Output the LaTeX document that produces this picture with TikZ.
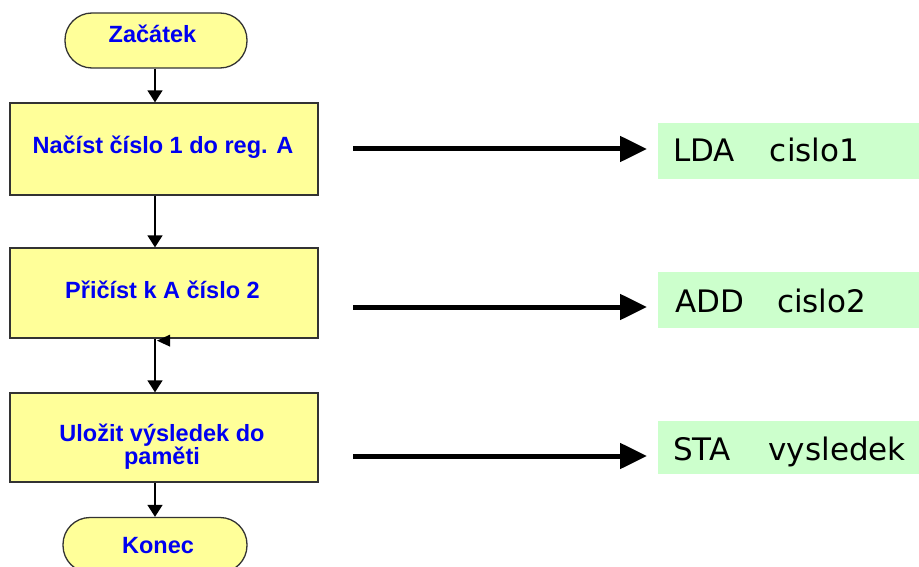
\documentclass[tikz,border=0pt]{standalone}
\usepackage{fontspec}
\setmainfont{Liberation Sans}
\newfontfamily\codefont{DejaVu Sans}
\usetikzlibrary{arrows.meta}
\definecolor{boxyellow}{HTML}{FFFF99}
\definecolor{boxline}{HTML}{333333}
\definecolor{txtblue}{HTML}{0000F0}
\definecolor{codegreen}{HTML}{CCFFCC}
\begin{document}
\begin{tikzpicture}[x=1pt,y=-1pt,
  term/.style={draw=boxline, fill=boxyellow, line width=1.3pt, rounded corners=27pt,
    minimum width=182pt, minimum height=55pt, inner sep=0pt},
  stepbox/.style={draw=boxline, fill=boxyellow, line width=1.3pt,
    minimum width=308pt, inner sep=0pt},
  ftext/.style={inner sep=0pt, text=txtblue, font=\fontsize{23.5}{23.5}\selectfont\bfseries},
  codebox/.style={fill=codegreen, inner sep=0pt, minimum width=262pt, anchor=north west},
  codetext/.style={inner sep=0pt, anchor=base west, font=\codefont\fontsize{31}{31}\selectfont},
  varrow/.style={line width=1.5pt, -{Triangle[length=12pt,width=15pt]}},
  harrow/.style={line width=5pt, -{Triangle[length=27pt,width=25pt]}, shorten >=11pt}
]
\useasboundingbox (0,0) rectangle (919,567);
\fill[white] (0,0) rectangle (919,567);

% flowchart column
\coordinate (col) at (155,0);

\node[term] (start) at (156,40.5) {};
\node[ftext, anchor=base] (startlabel) at (152.5,43) {Začátek};

\node[stepbox, minimum height=92pt] (b1) at (164,149) {};
\node[ftext, anchor=base] (t1) at (163,154) {Načíst číslo 1 do reg. A};

\node[stepbox, minimum height=90pt] (b2) at (164,293) {};
\node[ftext, anchor=base] (t2) at (162.5,298) {Přičíst k A číslo 2};

\node[stepbox, minimum height=89pt] (b3) at (164,437.5) {};
\node[ftext, align=center] (t3) at (162,446.5) {Uložit výsledek do\\paměti};

\node[term, minimum width=184pt] (end) at (155,545) {};
\node[ftext, anchor=base] (endlabel) at (158,553) {Konec};

\draw[varrow] (start.south -| col) -- (b1.north -| col);
\draw[varrow] (b1.south -| col) -- (b2.north -| col);
\draw[varrow] (b2.south -| col) -- (b3.north -| col);
\draw[varrow] (b3.south -| col) -- (end.north -| col);
\fill (b2.south -| col) ++(2,2) -- ++(13,-6) -- ++(0,12) -- cycle;

% code boxes
\node[codebox, minimum height=56pt] (g1) at (658,123) {};
\node[codetext] (c1) at (673,162) {LDA\hspace{35pt}cislo1};
\node[codebox, minimum height=56pt] (g2) at (658,272) {};
\node[codetext] (c2) at (675,312) {ADD\hspace{33pt}cislo2};
\node[codebox, minimum height=53pt] (g3) at (658,421) {};
\node[codetext] (c3) at (673,460) {STA\hspace{38pt}vysledek};

\coordinate (a1) at (353,149);
\coordinate (a2) at (353,307);
\coordinate (a3) at (353,456);
\draw[harrow] (a1) -- (a1 -| g1.west);
\draw[harrow] (a2) -- (a2 -| g2.west);
\draw[harrow] (a3) -- (a3 -| g3.west);
\end{tikzpicture}
\end{document}
